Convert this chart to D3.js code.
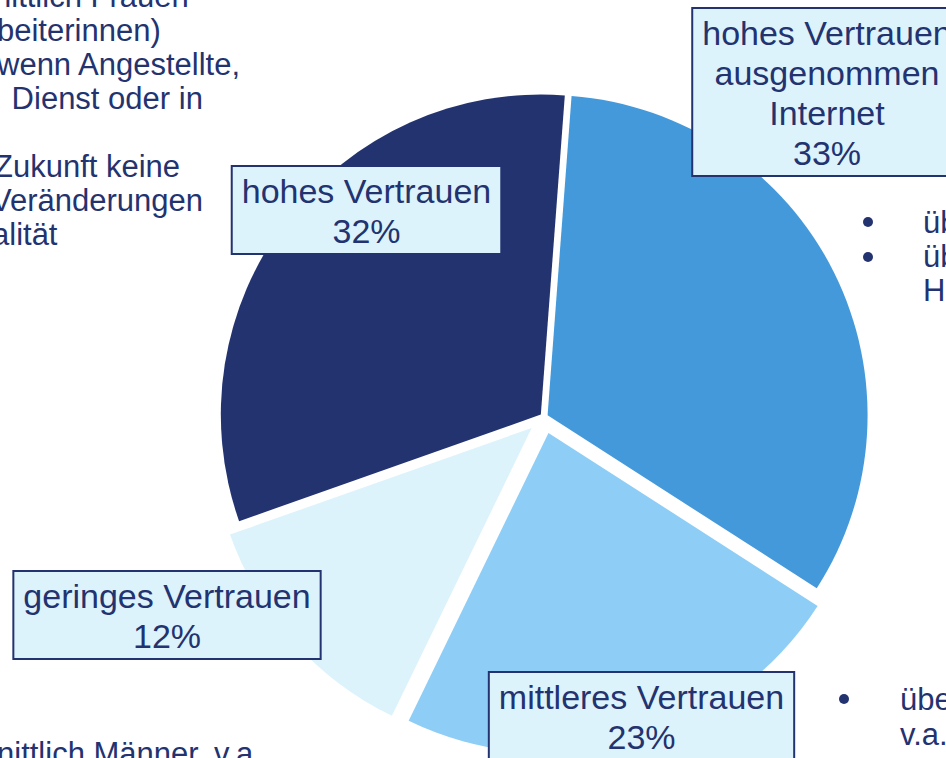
<!DOCTYPE html>
<html>
<head>
<meta charset="utf-8">
<script src="https://cdn.jsdelivr.net/npm/d3@7"></script>
<style>
  body { margin: 0; background: #fff; overflow: hidden; }
  svg { display: block; font-family: "Liberation Sans", Arial, sans-serif; }
</style>
</head>
<body>
<svg id="chart"></svg>
<script>
// slices in drawing order, clockwise from 12 o'clock
var categories = ["hohes Vertrauen ausgenommen Internet", "mittleres Vertrauen", "geringes Vertrauen", "hohes Vertrauen"];
var categoryLines = [["hohes Vertrauen", "ausgenommen", "Internet"], ["mittleres Vertrauen"], ["geringes Vertrauen"], ["hohes Vertrauen"]];
var shares = [32.9, 23.1, 12.4, 31.6];
var colors = ["#4499db", "#8ecef6", "#ddf3fc", "#233370"];

// slide text around the chart (cut off by the crop)
var leftLines = ["nittlich Frauen", "beiterinnen)", "wenn Angestellte,", " Dienst oder in", "", "Zukunft keine", "Veränderungen", "alität"];
var bottomLeftLines = ["nittlich Männer, v.a"];
var rightTopLines = ["üb", "üb", "H"];
var rightBottomLines = ["übe", "v.a."];

var width = 946, height = 758;
var cx = 544, cy = 417, radius = 320;
var explode = [4, 16.5, 16.5, 4];
var labelAt = [[827, 8], [641.5, 672], [167, 571], [366.5, 166]];
var leftX = [-6, -3, -3, 3, 0, -6, -9, -8];
var navy = "#233370";

var svg = d3.select("#chart")
  .attr("width", width)
  .attr("height", height);

// background text
var bg = svg.append("g")
  .attr("fill", navy)
  .attr("font-size", 31);

bg.selectAll(".left")
  .data(leftLines)
  .enter()
  .append("text")
  .attr("class", "left")
  .attr("x", function (d, i) { return leftX[i]; })
  .attr("y", function (d, i) { return 7 + i * 34; })
  .attr("xml:space", "preserve")
  .text(function (d) { return d; });

bg.selectAll(".bleft")
  .data(bottomLeftLines)
  .enter()
  .append("text")
  .attr("class", "bleft")
  .attr("x", -3)
  .attr("y", 764)
  .text(function (d) { return d; });

bg.selectAll(".rtop")
  .data(rightTopLines)
  .enter()
  .append("text")
  .attr("class", "rtop")
  .attr("x", 923)
  .attr("y", function (d, i) { return 233 + i * 34; })
  .text(function (d) { return d; });

bg.selectAll(".rtopdot")
  .data([0, 1])
  .enter()
  .append("circle")
  .attr("class", "rtopdot")
  .attr("cx", 868)
  .attr("cy", function (d) { return 222 + d * 35; })
  .attr("r", 5);

bg.selectAll(".rbot")
  .data(rightBottomLines)
  .enter()
  .append("text")
  .attr("class", "rbot")
  .attr("x", 900)
  .attr("y", function (d, i) { return 710 + i * 35; })
  .text(function (d) { return d; });

bg.append("circle")
  .attr("cx", 844)
  .attr("cy", 699)
  .attr("r", 5);

// pie
var start = 4.3 * Math.PI / 180;
var pie = d3.pie()
  .sort(null)
  .value(function (d) { return d; })
  .startAngle(start)
  .endAngle(start + 2 * Math.PI);

var arc = d3.arc().innerRadius(0).outerRadius(radius);
var slices = pie(shares);

svg.append("g")
  .attr("transform", "translate(" + cx + "," + cy + ")")
  .selectAll("path")
  .data(slices)
  .enter()
  .append("path")
  .attr("transform", function (d, i) {
    var mid = (d.startAngle + d.endAngle) / 2;
    return "translate(" + (Math.sin(mid) * explode[i]) + "," + (-Math.cos(mid) * explode[i]) + ")";
  })
  .attr("d", arc)
  .attr("fill", function (d, i) { return colors[i]; });

// data labels
var fmt = d3.format(".0f");
var labels = svg.append("g")
  .selectAll(".label")
  .data(slices)
  .enter()
  .append("g")
  .attr("class", "label");

labels.each(function (d, i) {
  var g = d3.select(this);
  var lines = categoryLines[i].concat([fmt(d.data) + "%"]);
  var x = labelAt[i][0], top = labelAt[i][1];
  var rect = g.append("rect");
  var t = g.append("text")
    .attr("font-size", 34)
    .attr("fill", navy)
    .attr("text-anchor", "middle");
  var w = 0;
  lines.forEach(function (s, k) {
    var ts = t.append("tspan")
      .attr("x", x)
      .attr("y", top + 37 + k * 40)
      .text(s);
    w = Math.max(w, ts.node().getComputedTextLength());
  });
  rect.attr("x", x - w / 2 - 10)
    .attr("y", top)
    .attr("width", w + 20)
    .attr("height", lines.length * 40 + 8)
    .attr("fill", "#ddf3fc")
    .attr("stroke", navy)
    .attr("stroke-width", 2);
});
</script>
</body>
</html>
